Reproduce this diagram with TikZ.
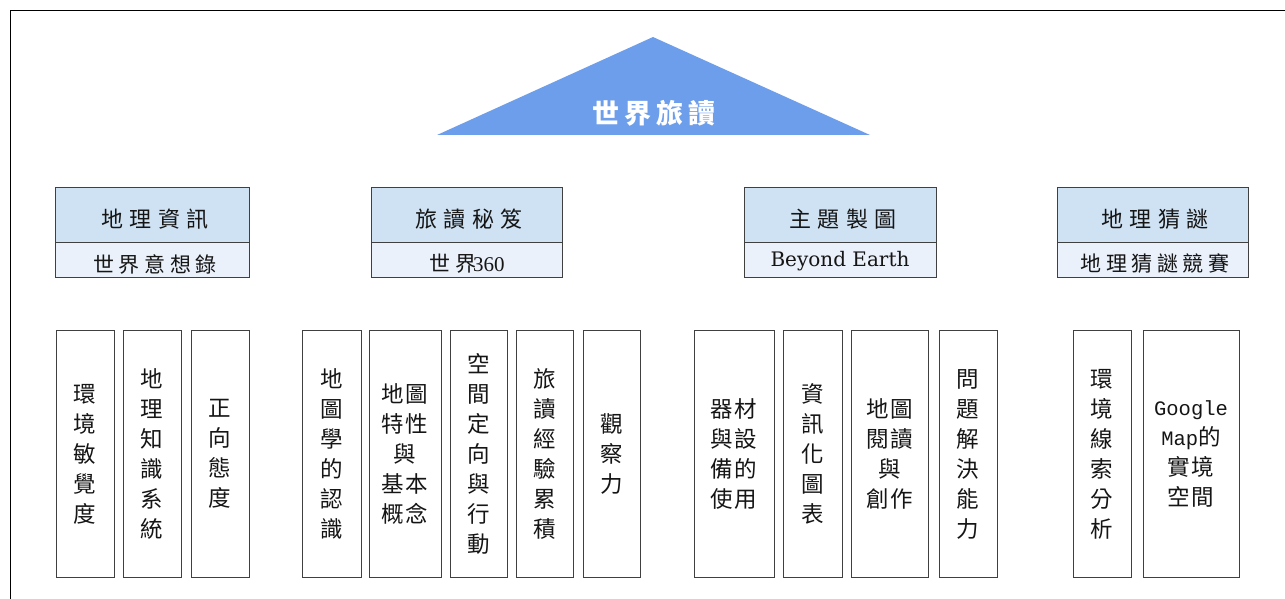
\documentclass[tikz,border=0pt]{standalone}
\usepackage{fontspec}
\newfontfamily\cjk{Noto Sans CJK TC}
\newfontfamily\lserif{Liberation Serif}
\newfontfamily\dserif{DejaVu Serif}
\newfontfamily\gmono{Liberation Mono}
\definecolor{triblue}{HTML}{6D9EEB}
\definecolor{hdrblue}{HTML}{CFE2F3}
\definecolor{subblue}{HTML}{EAF1FA}
\definecolor{boxline}{HTML}{404040}
\definecolor{ink}{HTML}{151515}
\newcommand\lowfont{\cjk\fontsize{22.5bp}{30bp}\selectfont\addfontfeature{LetterSpace=8}}
\newcommand\headfont{\cjk\fontsize{22bp}{26bp}\selectfont\addfontfeature{LetterSpace=30}}
\newcommand\subfont{\cjk\fontsize{21bp}{24bp}\selectfont\addfontfeature{LetterSpace=22}}
\newcommand\titlefont{\cjk\bfseries\fontsize{27bp}{30bp}\selectfont\addfontfeature{LetterSpace=18}}
\tikzset{
  frameline/.style={line width=1.5bp, black},
  tri/.style={fill=triblue, draw=none},
  hdrtop/.style={draw=boxline, line width=1bp, fill=hdrblue, minimum height=55bp, inner sep=0pt},
  hdrsub/.style={draw=boxline, line width=1bp, fill=subblue, minimum height=35bp, inner sep=0pt},
  headtxt/.style={text=ink, inner sep=0pt, font=\headfont},
  subtxt/.style={text=ink, inner sep=0pt, font=\subfont},
  lowbox/.style={draw=boxline, line width=1bp, minimum height=246bp, inner sep=0pt, align=center, text=ink, font=\lowfont},
}
\begin{document}
\begin{tikzpicture}[x=1bp, y=-1bp]
\useasboundingbox (0,0) rectangle (1285,599);
% frame
\draw[frameline] (10.5,599) -- (10.5,10.5) -- (1285,10.5);
% title triangle
\fill[tri] (653,37) -- (870,135) -- (437,135) -- cycle;
\node[text=white, inner sep=0pt, font=\titlefont] (title) at (654,113) {世界旅讀};

% header boxes
\node[hdrtop, minimum width=193bp] (h1) at (152.5,215.5) {};
\node[hdrsub, minimum width=193bp] (s1) at (152.5,260.5) {};
\node[hdrtop, minimum width=191bp] (h2) at (466.5,215.5) {};
\node[hdrsub, minimum width=191bp] (s2) at (466.5,260.5) {};
\node[hdrtop, minimum width=192bp] (h3) at (840,215.5) {};
\node[hdrsub, minimum width=192bp] (s3) at (840,260.5) {};
\node[hdrtop, minimum width=191bp] (h4) at (1152.5,215.5) {};
\node[hdrsub, minimum width=191bp] (s4) at (1152.5,260.5) {};

\node[headtxt] (h1t) at (155,219) {地理資訊};
\node[headtxt] (h2t) at (469,219) {旅讀秘笈};
\node[headtxt] (h3t) at (843,219) {主題製圖};
\node[headtxt] (h4t) at (1155,219) {地理猜謎};

\node[subtxt] (s1t) at (155,264) {世界意想錄};
\node[subtxt] (s2t) at (467,264) {世界\hspace{-3bp}{\lserif\fontsize{21bp}{24bp}\selectfont 360}};
\node[text=ink, inner sep=0pt, font=\dserif\fontsize{20bp}{24bp}\selectfont] (s3t) at (840,261.5) {Beyond Earth};
\node[subtxt] (s4t) at (1155,264) {地理猜謎競賽};

% group 1
\node[lowbox, minimum width=58bp] (a1) at (85,454) {環\\境\\敏\\覺\\度};
\node[lowbox, minimum width=58bp] (a2) at (152,454) {地\\理\\知\\識\\系\\統};
\node[lowbox, minimum width=58bp] (a3) at (220,454) {正\\向\\態\\度};
% group 2
\node[lowbox, minimum width=59bp] (b1) at (331.5,454) {地\\圖\\學\\的\\認\\識};
\node[lowbox, minimum width=72bp] (b2) at (405,454) {地圖\\特性\\與\\基本\\概念};
\node[lowbox, minimum width=57bp] (b3) at (478.5,454) {空\\間\\定\\向\\與\\行\\動};
\node[lowbox, minimum width=57bp] (b4) at (544.5,454) {旅\\讀\\經\\驗\\累\\積};
\node[lowbox, minimum width=57bp] (b5) at (611.5,454) {觀\\察\\力};
% group 3
\node[lowbox, minimum width=80bp] (c1) at (734,454) {器材\\與設\\備的\\使用};
\node[lowbox, minimum width=59bp] (c2) at (812.5,454) {資\\訊\\化\\圖\\表};
\node[lowbox, minimum width=77bp] (c3) at (889.5,454) {地圖\\閱讀\\與\\創作};
\node[lowbox, minimum width=58bp] (c4) at (968,454) {問\\題\\解\\決\\能\\力};
% group 4
\node[lowbox, minimum width=58bp] (d1) at (1102,454) {環\\境\\線\\索\\分\\析};
\node[lowbox, minimum width=96bp] (d2) at (1191,454) {{\gmono\fontsize{20.5bp}{30bp}\selectfont Google}\\{\gmono\fontsize{20.5bp}{30bp}\selectfont Map}的\\實境\\空間};
\end{tikzpicture}
\end{document}
